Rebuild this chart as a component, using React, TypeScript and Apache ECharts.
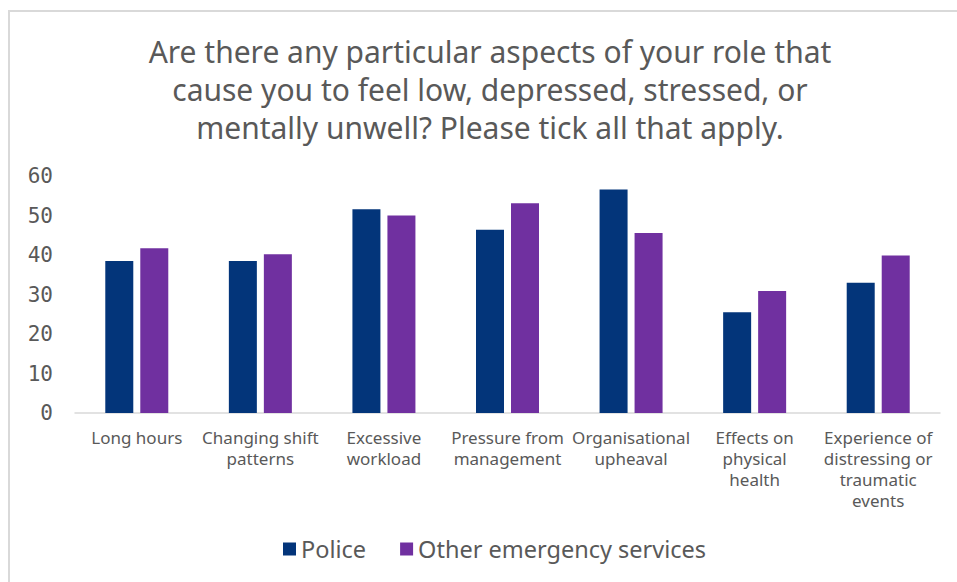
import React, { useEffect, useRef } from "react";
import * as echarts from "echarts";

const titleLines = [
  "Are there any particular aspects of your role that",
  "cause you to feel low, depressed, stressed, or",
  "mentally unwell? Please tick all that apply.",
];

const categories = [
  "Long hours",
  "Changing shift\npatterns",
  "Excessive\nworkload",
  "Pressure from\nmanagement",
  "Organisational\nupheaval",
  "Effects on\nphysical\nhealth",
  "Experience of\ndistressing or\ntraumatic\nevents",
];

const seriesNames = ["Police", "Other emergency services"];
const police = [38.5, 38.5, 51.6, 46.4, 56.6, 25.5, 33.0];
const otherServices = [41.7, 40.2, 50.0, 53.1, 45.6, 30.9, 39.9];
const colors = ["#03357A", "#7030A0"];

export default function App() {
  const ref = useRef<HTMLDivElement>(null);
  useEffect(() => {
    if (!ref.current) return;
    const chart = echarts.init(ref.current, undefined, { renderer: "svg" });
    const txt = "#595959";
    chart.setOption({
      animation: false,
      backgroundColor: "#ffffff",
      graphic: [
        {
          type: "rect",
          shape: { x: 9, y: 11, width: 1000, height: 1000 },
          style: { fill: "none", stroke: "#d9d9d9", lineWidth: 2 },
          silent: true,
        },
        {
          type: "text",
          x: 490,
          y: 32,
          style: {
            text: titleLines.join("\n"),
            font: "30px 'Noto Sans'",
            fill: txt,
            textAlign: "center",
            lineHeight: 38,
          },
        },
      ],
      grid: { left: 75, right: 17, top: 176, bottom: 169, containLabel: false },
      legend: {
        left: 283,
        top: 537,
        padding: 0,
        itemWidth: 13,
        itemHeight: 13,
        itemGap: 34,
        icon: "rect",
        textStyle: { color: txt, fontSize: 23.5, fontFamily: "Noto Sans", padding: [0, 0, 0, 0] },
        data: seriesNames,
      },
      xAxis: {
        type: "category",
        data: categories,
        axisLine: { lineStyle: { color: "#d9d9d9", width: 1.5 } },
        axisTick: { show: false },
        axisLabel: {
          color: txt,
          fontSize: 17,
          fontFamily: "Noto Sans",
          lineHeight: 21,
          margin: 14,
          interval: 0,
        },
      },
      yAxis: {
        type: "value",
        min: 0,
        max: 60,
        interval: 10,
        splitLine: { show: false },
        axisLine: { show: false },
        axisTick: { show: false },
        axisLabel: {
          color: txt,
          fontSize: 21,
          fontFamily: "DejaVu Sans Mono",
          margin: 22,
        },
      },
      series: [
        {
          name: seriesNames[0],
          type: "bar",
          data: police,
          barWidth: 28,
          barGap: "25%",
          itemStyle: { color: colors[0] },
        },
        {
          name: seriesNames[1],
          type: "bar",
          data: otherServices,
          barWidth: 28,
          barGap: "25%",
          itemStyle: { color: colors[1] },
        },
      ],
    });
    return () => chart.dispose();
  }, []);
  return (
    <div
      ref={ref}
      style={{ position: "fixed", left: 0, top: 0, width: 957, height: 582 }}
    />
  );
}
